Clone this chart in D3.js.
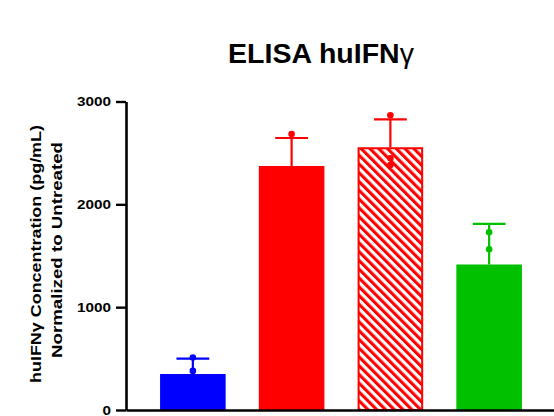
<!DOCTYPE html>
<html>
<head>
<meta charset="utf-8">
<script src="https://cdn.jsdelivr.net/npm/d3@7"></script>
<style>
  html, body { margin: 0; padding: 0; background: #fff; }
  svg { display: block; }
</style>
</head>
<body>
<svg id="chart" width="554" height="416"></svg>
<script>
// ELISA huIFNγ: mean concentration per group with upper SD bar and replicate dots
const categories = ["Group 1", "Group 2", "Group 3", "Group 4"];
const means      = [350, 2373, 2555, 1415];
const sds        = [150, 272, 272, 395];
const replicates = [[510, 380], [2684], [2866, 2448, 2383], [1728, 1563]];
const colors     = ["#0000ff", "#ff0000", "#ff0000", "#00c000"];
const hatched    = [false, false, true, false];
const yTicks     = [0, 1000, 2000, 3000];

const svg = d3.select("#chart");
const font = "'Liberation Sans', Arial, Helvetica, sans-serif";

const x = d3.scaleBand()
  .domain(categories)
  .range([126, 556])
  .paddingInner(0.336)
  .paddingOuter(0.345);

const y = d3.scaleLinear()
  .domain([0, 3000])
  .range([410, 101.5]);

// diagonal stripe fill for the hatched group
const defs = svg.append("defs");
defs.append("pattern")
  .attr("id", "hatch")
  .attr("patternUnits", "userSpaceOnUse")
  .attr("width", 6.2)
  .attr("height", 6.2)
  .attr("patternTransform", "rotate(-45)")
  .call(p => {
    p.append("rect").attr("width", 6.2).attr("height", 6.2).attr("fill", "#fff");
    p.append("rect").attr("width", 3.1).attr("height", 6.2).attr("fill", "#ff0000");
  });

const data = categories.map((c, i) => ({
  cat: c, mean: means[i], sd: sds[i], pts: replicates[i], color: colors[i], hatch: hatched[i]
}));

// bars
svg.append("g").selectAll("rect")
  .data(data)
  .join("rect")
  .attr("x", d => x(d.cat) + (d.hatch ? 1 : 0))
  .attr("y", d => y(d.mean) + (d.hatch ? 1 : 0))
  .attr("width", d => x.bandwidth() - (d.hatch ? 2 : 0))
  .attr("height", d => y(0) - y(d.mean) - (d.hatch ? 1 : 0))
  .attr("fill", d => d.hatch ? "url(#hatch)" : d.color)
  .attr("stroke", d => d.hatch ? d.color : "none")
  .attr("stroke-width", 2);

// upper error bars
const err = svg.append("g").selectAll("g")
  .data(data)
  .join("g")
  .attr("stroke", d => d.color)
  .attr("stroke-width", 2.2);
err.append("line")
  .attr("x1", d => x(d.cat) + x.bandwidth() / 2)
  .attr("x2", d => x(d.cat) + x.bandwidth() / 2)
  .attr("y1", d => y(d.mean))
  .attr("y2", d => y(d.mean + d.sd));
err.append("line")
  .attr("x1", d => x(d.cat) + x.bandwidth() / 4)
  .attr("x2", d => x(d.cat) + x.bandwidth() * 3 / 4)
  .attr("y1", d => y(d.mean + d.sd))
  .attr("y2", d => y(d.mean + d.sd));

// replicate points
svg.append("g").selectAll("g")
  .data(data)
  .join("g")
  .attr("fill", d => d.color)
  .selectAll("circle")
  .data(d => d.pts.map(v => ({ v, cat: d.cat })))
  .join("circle")
  .attr("cx", d => x(d.cat) + x.bandwidth() / 2)
  .attr("cy", d => y(d.v))
  .attr("r", 3.3);

// axes
const yAxis = svg.append("g")
  .attr("transform", "translate(126,0)")
  .call(d3.axisLeft(y).tickValues(yTicks).tickFormat(d3.format("d"))
    .tickSize(10).tickSizeOuter(0).tickPadding(5));
yAxis.select(".domain").attr("stroke-width", 2.6);
yAxis.selectAll(".tick line").attr("stroke-width", 2.4);
yAxis.selectAll(".tick text")
  .attr("font-family", font)
  .attr("font-weight", "bold")
  .attr("font-size", 13)
  .attr("fill", "#000")
  .attr("textLength", d => String(d).length * 8.5)
  .attr("lengthAdjust", "spacingAndGlyphs");

const xAxis = svg.append("g")
  .attr("transform", "translate(0,410)")
  .call(d3.axisBottom(x).tickSize(0).tickFormat(""));
xAxis.select(".domain").attr("stroke-width", 2.6);

// title
const title = svg.append("text")
  .attr("x", 321)
  .attr("y", 63)
  .attr("text-anchor", "middle")
  .attr("font-family", font)
  .attr("font-size", 28.5)
  .attr("font-weight", "bold")
  .attr("fill", "#000");
title.append("tspan").text("ELISA huIFN");
title.append("tspan").attr("font-weight", "normal").text("γ");

// y-axis label, two lines
const ylab = svg.append("g")
  .attr("font-family", font)
  .attr("font-weight", "bold")
  .attr("font-size", 15)
  .attr("fill", "#000")
  .attr("text-anchor", "middle");
ylab.append("text")
  .attr("transform", "translate(41,254) rotate(-90)")
  .attr("textLength", 258)
  .attr("lengthAdjust", "spacingAndGlyphs")
  .text("huIFNγ Concentration (pg/mL)");
ylab.append("text")
  .attr("transform", "translate(62,250) rotate(-90)")
  .attr("textLength", 216)
  .attr("lengthAdjust", "spacingAndGlyphs")
  .text("Normalized to Untreated");
</script>
</body>
</html>
